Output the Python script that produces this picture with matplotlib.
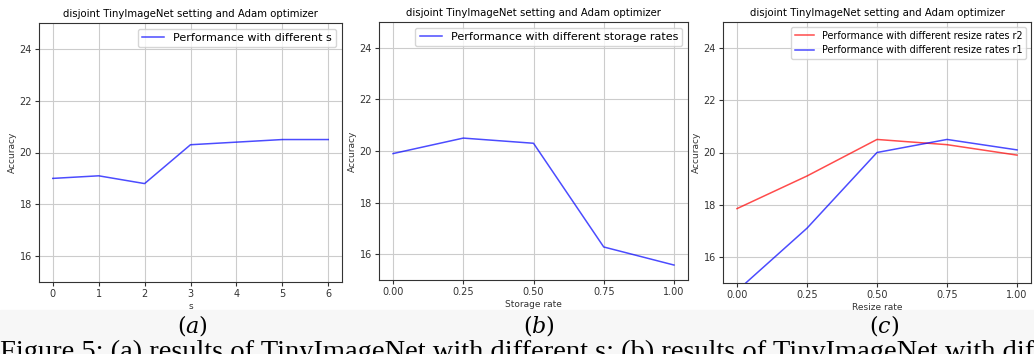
import numpy as np
import matplotlib.pyplot as plt
from matplotlib.patches import Rectangle

s_vals = [0, 1, 2, 3, 4, 5, 6]
acc_s = [19.0, 19.1, 18.8, 20.3, 20.4, 20.5, 20.5]

storage_rates = [0.0, 0.25, 0.5, 0.75, 1.0]
acc_storage = [19.9, 20.5, 20.3, 16.28, 15.58]

resize_rates = [0.0, 0.25, 0.5, 0.75, 1.0]
acc_r2 = [17.85, 19.1, 20.5, 20.3, 19.9]
acc_r1 = [14.7, 17.1, 20.0, 20.5, 20.1]

title = 'disjoint TinyImageNet setting and Adam optimizer'
W, H = 1034, 354

fig = plt.figure(figsize=(W / 100, H / 100), dpi=100)


def box(l, t, r, b):
    return [l / W, 1 - b / H, (r - l) / W, (b - t) / H]


# faint grey band of the scanned page behind the sub-captions
fig.patches.append(Rectangle((0, 0), 1, 1 - 310 / H, transform=fig.transFigure,
                             color='#f7f7f7', zorder=-10))


def style(ax, xlabel):
    ax.set_ylim(15, 25)
    ax.set_yticks([16, 18, 20, 22, 24])
    ax.grid(True, color='#cccccc', linewidth=0.8)
    ax.set_title(title, fontsize=7.3, pad=4)
    ax.set_xlabel(xlabel, fontsize=6.5, labelpad=2, color='#333333')
    ax.set_ylabel('Accuracy', fontsize=6.5, labelpad=2, color='#333333')
    ax.tick_params(labelsize=7, length=3, pad=2, colors='#333333')
    for sp in ax.spines.values():
        sp.set_color('#333333')


ax1 = fig.add_axes(box(39, 23, 342, 282))
ax1.plot(s_vals, acc_s, color='b', alpha=0.7, lw=1.1, label='Performance with different s')
style(ax1, 's')
ax1.legend(fontsize=8, loc='upper right', handlelength=2)

ax2 = fig.add_axes(box(379, 22, 688, 280))
ax2.plot(storage_rates, acc_storage, color='b', alpha=0.7, lw=1.1,
         label='Performance with different storage rates')
style(ax2, 'Storage rate')
ax2.set_xticks(storage_rates)
ax2.legend(fontsize=8, loc='upper right', handlelength=2)

ax3 = fig.add_axes(box(723, 22, 1031, 283))
ax3.plot(resize_rates, acc_r2, color='r', alpha=0.7, lw=1.1,
         label='Performance with different resize rates r2')
ax3.plot(resize_rates, acc_r1, color='b', alpha=0.7, lw=1.1,
         label='Performance with different resize rates r1')
style(ax3, 'Resize rate')
ax3.set_xticks(resize_rates)
ax3.legend(fontsize=6.9, loc='upper right', handlelength=2)

for lab, x in [('(a)', 192), ('(b)', 539), ('(c)', 884)]:
    fig.text(x / W, 1 - 325 / H, '$' + lab + '$', fontsize=16, ha='center', va='center',
             math_fontfamily='dejavuserif')

fig.text(0, 1 - 340 / H,
         'Figure 5: (a) results of TinyImageNet with different s; (b) results of TinyImageNet with different storage rates',
         fontsize=20.5, family='Liberation Serif', ha='left', va='top')

fig.savefig('out.png', dpi=100)
